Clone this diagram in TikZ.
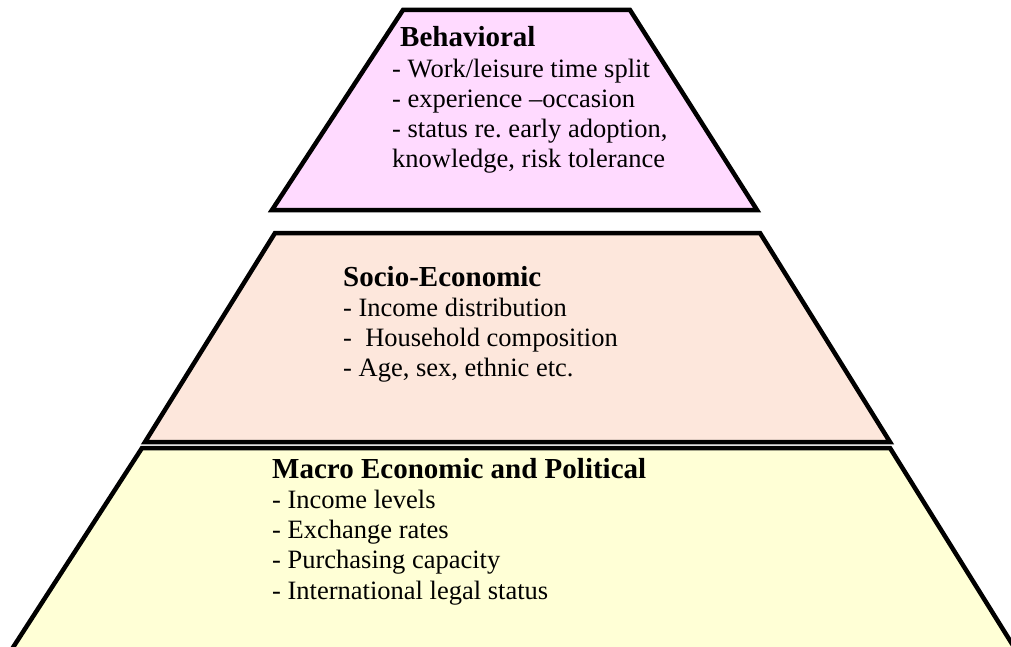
\documentclass[tikz,border=0pt]{standalone}
\usepackage{fontspec}
\setmainfont{Liberation Serif}
\usepackage{tikz}
\usetikzlibrary{positioning}
\frenchspacing
\definecolor{behavpink}{RGB}{255,218,255}
\definecolor{sociopeach}{RGB}{253,231,220}
\definecolor{macroyellow}{RGB}{255,255,214}
\newcommand{\tierhead}[1]{{\fontsize{29}{30.2}\selectfont\bfseries #1}}
\tikzset{tier/.style={draw=black, line width=4.5pt, line join=miter},
behav/.style={tier, fill=behavpink},
socio/.style={tier, fill=sociopeach},
macro/.style={tier, fill=macroyellow},
tiertext/.style={anchor=north west, align=left, inner sep=0pt,
font=\fontsize{26.5}{30.2}\selectfont}}

\begin{document}
\begin{tikzpicture}[x=1pt,y=-1pt]
  \useasboundingbox (0,0) rectangle (1011,647);
  \clip (0,0) rectangle (1011,647);
  % the three layers, widest at the bottom
  \draw [macro] (142,448) -- (890,448) -- (1047,700) -- (-21,700) -- cycle;
  \draw [socio] (275,233) -- (760,233) -- (890,442) -- (145,442) -- cycle;
  \draw [behav] (403,10) -- (630,10) -- (757,210) -- (272,210) -- cycle;
  % layer texts
  \node (behavtxt) [tiertext] at (392,26.5) {\hspace*{8pt}\tierhead{Behavioral}\\
    - Work/leisure time split\\ - experience –occasion\\
    - status re. early adoption,\\ knowledge, risk tolerance};
  \node (sociotxt) [tiertext] at (343,266) {\tierhead{Socio-Economic}\\
    - Income distribution\\ - \ Household composition\\ - Age, sex, ethnic etc.};
  \node (macrotxt) [tiertext] at (272,458) {\tierhead{Macro Economic and Political}\\
    - Income levels\\ - Exchange rates\\ - Purchasing capacity\\
    - International legal status};
\end{tikzpicture}
\end{document}
